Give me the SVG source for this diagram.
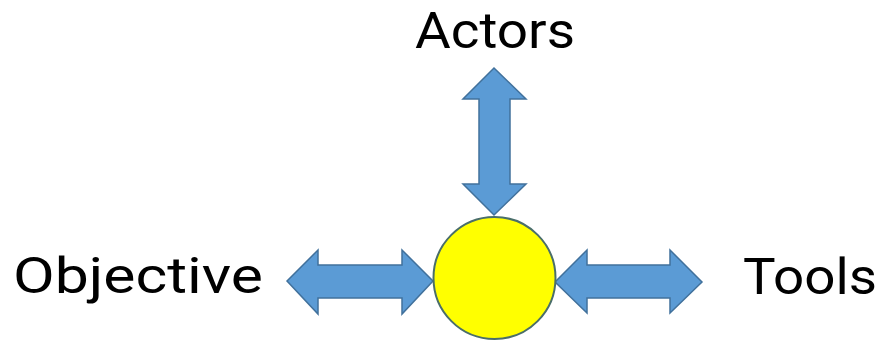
<svg xmlns="http://www.w3.org/2000/svg" width="881" height="340" viewBox="0 0 881 340">
  <style>
    .arrow { fill: #5B9BD5; stroke: #41719C; stroke-width: 1.5; stroke-linejoin: miter; }
    .label { font-family: Roboto, "Liberation Sans", sans-serif; font-size: 50px; fill: #000000; }
    .hub { fill: #FFFF00; stroke: #4A6E6A; stroke-width: 2; }
  </style>
  <rect x="0" y="0" width="881" height="340" fill="#FFFFFF"/>
  <g id="connectors">
    <polygon class="arrow" points="494,68 526,99 510,99 510,184 526,184 494,215 463,184 479,184 479,99 463,99"/>
    <polygon class="arrow" points="287,281 318,250 318,265 402,265 402,250 433,281 402,314 402,298 318,298 318,314"/>
    <polygon class="arrow" points="555,282 587,250 587,265 670,265 670,250 702,282 670,313 670,298 587,298 587,313"/>
  </g>
  <g id="hub">
    <circle class="hub" cx="494.5" cy="278" r="61"/>
  </g>
  <g id="actors">
    <text class="label" x="415" y="48" textLength="160" lengthAdjust="spacingAndGlyphs">Actors</text>
  </g>
  <g id="objective">
    <text class="label" x="13" y="293" textLength="250" lengthAdjust="spacingAndGlyphs">Objective</text>
  </g>
  <g id="tools">
    <text class="label" x="743" y="294" textLength="134" lengthAdjust="spacingAndGlyphs">Tools</text>
  </g>
</svg>
